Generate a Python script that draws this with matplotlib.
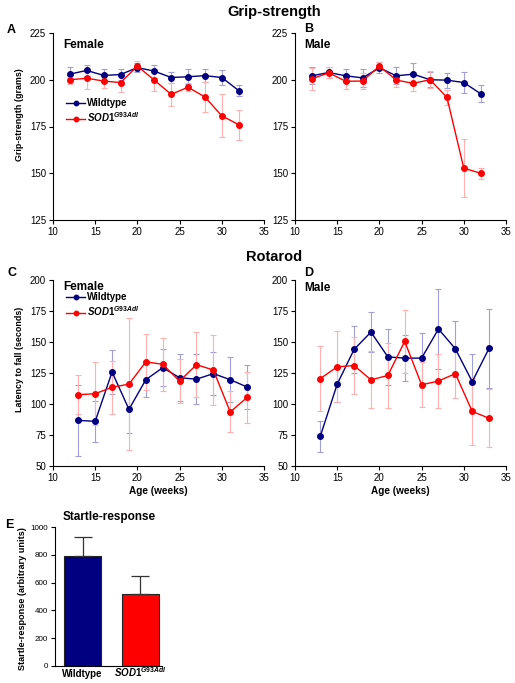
import matplotlib
matplotlib.use('Agg')
import matplotlib.pyplot as plt

plt.rcParams['font.family'] = 'Liberation Sans'
plt.rcParams['mathtext.fontset'] = 'custom'
plt.rcParams['mathtext.rm'] = 'Liberation Sans:bold'
plt.rcParams['mathtext.it'] = 'Liberation Sans:italic:bold'
plt.rcParams['mathtext.bf'] = 'Liberation Sans:bold'

# Grip-strength (grams)
grip_weeks = [12, 14, 16, 18, 20, 22, 24, 26, 28, 30, 32]
grip_f_wt = [203, 205, 202.3, 202.8, 206.5, 204.6, 201.2, 201.6, 202.2, 201.2, 194.2]
grip_f_wt_err = [4, 3, 3.5, 3, 2.5, 3.5, 3, 4, 3.5, 4, 3]
grip_f_sod = [200, 200.8, 199.3, 198.5, 207.3, 199.8, 192.2, 196, 190.8, 180.7, 176]
grip_f_sod_err = [2.5, 5.5, 3.5, 5, 2.5, 6, 6, 2, 8, 11.5, 8]
grip_m_wt = [202.1, 203.9, 202.1, 201, 206.4, 202.1, 203, 200, 199.8, 198.5, 192.5]
grip_m_wt_err = [4.5, 3, 3.5, 5, 3, 4.5, 6, 4, 4, 5.5, 4.5]
grip_m_sod = [200.5, 203.7, 199.2, 199.3, 207.3, 199.8, 198.1, 200, 190.6, 152.7, 150]
grip_m_sod_err = [6, 3, 4, 4.5, 2, 3.5, 4, 4.5, 4, 15.5, 3]

# Rotarod latency to fall (seconds)
rota_weeks = [13, 15, 17, 19, 21, 23, 25, 27, 29, 31, 33]
rota_f_wt = [86.8, 86, 125.8, 95.7, 119.6, 129.3, 121.2, 120, 124.5, 119.6, 113.7]
rota_f_wt_err = [28.5, 16.5, 18, 19, 14, 15, 19, 20, 17.5, 18, 18]
rota_f_sod = [107.5, 108.3, 113.5, 116, 134, 132, 118.5, 131.7, 127.4, 93.6, 105.3]
rota_f_sod_err = [15.5, 25.5, 21.5, 53, 22.5, 21.5, 18, 26, 28, 16.5, 20.5]
rota_m_wt = [74, 116, 144, 158, 138, 137, 137, 160.5, 144.5, 118, 145]
rota_m_wt_err = [12.5, 14, 19, 16, 22.5, 18.5, 20, 32, 22.5, 22, 32]
rota_m_sod = [120.5, 130, 131, 119.5, 123, 150.5, 115.5, 118.5, 124.5, 94, 88.5]
rota_m_sod_err = [26.5, 28.5, 23, 23, 26, 25.5, 18, 22, 20, 27, 23.5]

# Startle-response (arbitrary units)
startle_mean = [790, 518]
startle_err = [137, 129]

SOD_LABEL = r'$\mathit{SOD1}^{\mathit{G93Adl}}$'
WT_COLOR = '#000080'
WT_ERR = '#a0a0d4'
SOD_COLOR = '#ff0000'
SOD_ERR = '#ffb0b0'

W, H = 515, 683
fig = plt.figure(figsize=(W / 100, H / 100), dpi=100)


def px_axes(l, t, r, b):
    return fig.add_axes([l / W, 1 - b / H, (r - l) / W, (b - t) / H])


def ftext(x, y, s, **kw):
    fig.text(x / W, 1 - y / H, s, **kw)


def style(ax):
    for side in ['top', 'right']:
        ax.spines[side].set_visible(False)
    for side in ['left', 'bottom']:
        ax.spines[side].set_linewidth(0.8)
    ax.tick_params(labelsize=7, length=3, width=0.8, pad=2)


def line_panel(ax, weeks, wt, wt_err, sod, sod_err, ylim, yticks):
    ax.errorbar(weeks, wt, yerr=wt_err, fmt='none', ecolor=WT_ERR,
                elinewidth=0.8, capsize=2.2, capthick=0.8)
    ax.errorbar(weeks, sod, yerr=sod_err, fmt='none', ecolor=SOD_ERR,
                elinewidth=0.8, capsize=2.2, capthick=0.8)
    h_wt, = ax.plot(weeks, wt, '-o', color=WT_COLOR, ms=4, lw=1, label='Wildtype')
    h_sod, = ax.plot(weeks, sod, '-o', color=SOD_COLOR, ms=4, lw=1, label=SOD_LABEL)
    ax.set_xlim(10, 35)
    ax.set_xticks(range(10, 36, 5))
    ax.set_ylim(*ylim)
    ax.set_yticks(yticks)
    style(ax)
    return [h_wt, h_sod]


def add_legend(ax, handles, x, y):
    leg = ax.legend(handles=handles, loc='upper left', bbox_to_anchor=(x / W, 1 - y / H),
                    bbox_transform=fig.transFigure, frameon=False, borderpad=0,
                    borderaxespad=0, handlelength=2.0, handletextpad=0.2,
                    labelspacing=0.25, markerscale=0.8,
                    prop={'size': 7, 'weight': 'bold'})
    return leg


grip_ticks = [125, 150, 175, 200, 225]
rota_ticks = [50, 75, 100, 125, 150, 175, 200]

# Grip-strength panels
axA = px_axes(53, 33, 264, 220)
hA = line_panel(axA, grip_weeks, grip_f_wt, grip_f_wt_err, grip_f_sod, grip_f_sod_err,
                (125, 225), grip_ticks)
add_legend(axA, hA, 66, 98)

axB = px_axes(295, 33, 506, 220)
line_panel(axB, grip_weeks, grip_m_wt, grip_m_wt_err, grip_m_sod, grip_m_sod_err,
           (125, 225), grip_ticks)

# Rotarod panels
axC = px_axes(53, 280, 264, 466)
hC = line_panel(axC, rota_weeks, rota_f_wt, rota_f_wt_err, rota_f_sod, rota_f_sod_err,
                (50, 200), rota_ticks)
add_legend(axC, hC, 66, 292)

axD = px_axes(295, 280, 506, 466)
line_panel(axD, rota_weeks, rota_m_wt, rota_m_wt_err, rota_m_sod, rota_m_sod_err,
           (50, 200), rota_ticks)

# Startle-response bars
axE = px_axes(55, 527, 162, 666)
axE.bar([0, 1], startle_mean, width=0.64, color=[WT_COLOR, SOD_COLOR],
        edgecolor='#222222', linewidth=0.8)
axE.errorbar([0, 1], startle_mean, yerr=[[0, 0], startle_err], fmt='none',
             ecolor='#333333', elinewidth=0.9, capsize=6.5, capthick=0.9)
axE.set_xlim(-0.48, 1.38)
axE.set_ylim(0, 1000)
axE.set_yticks(range(0, 1001, 200))
axE.set_xticks([0, 1])
axE.set_xticklabels(['Wildtype', SOD_LABEL], fontweight='bold')
style(axE)
axE.tick_params(axis='y', labelsize=5.8)
axE.tick_params(axis='x', length=0, pad=8)
for lbl in axE.get_xticklabels():
    lbl.set_verticalalignment('baseline')

# Titles, labels, panel letters
ftext(274, 12, 'Grip-strength', fontsize=10.5, fontweight='bold', ha='center', va='center')
ftext(274, 257, 'Rotarod', fontsize=10.5, fontweight='bold', ha='center', va='center')
ftext(63, 517, 'Startle-response', fontsize=8.5, fontweight='bold', ha='left', va='center')

for x, y, s in [(7, 30, 'A'), (304, 29, 'B'), (7, 273, 'C'), (304, 273, 'D'), (5, 525, 'E')]:
    ftext(x, y, s, fontsize=9, fontweight='bold', ha='left', va='center')

for x, y, s in [(63, 45, 'Female'), (304, 45, 'Male'), (63, 287, 'Female'), (304, 288, 'Male')]:
    ftext(x, y, s, fontsize=8.5, fontweight='bold', ha='left', va='center')

ftext(20, 115, 'Grip-strength (grams)', fontsize=6.4, fontweight='bold',
      rotation=90, ha='center', va='center')
ftext(20, 359, 'Latency to fall (seconds)', fontsize=6.4, fontweight='bold',
      rotation=90, ha='center', va='center')
ftext(23, 599, 'Startle-response (arbitrary units)', fontsize=6.6, fontweight='bold',
      rotation=90, ha='center', va='center')
ftext(158, 491, 'Age (weeks)', fontsize=7.2, fontweight='bold', ha='center', va='center')
ftext(400, 491, 'Age (weeks)', fontsize=7.2, fontweight='bold', ha='center', va='center')

fig.savefig('out.png', dpi=100)
